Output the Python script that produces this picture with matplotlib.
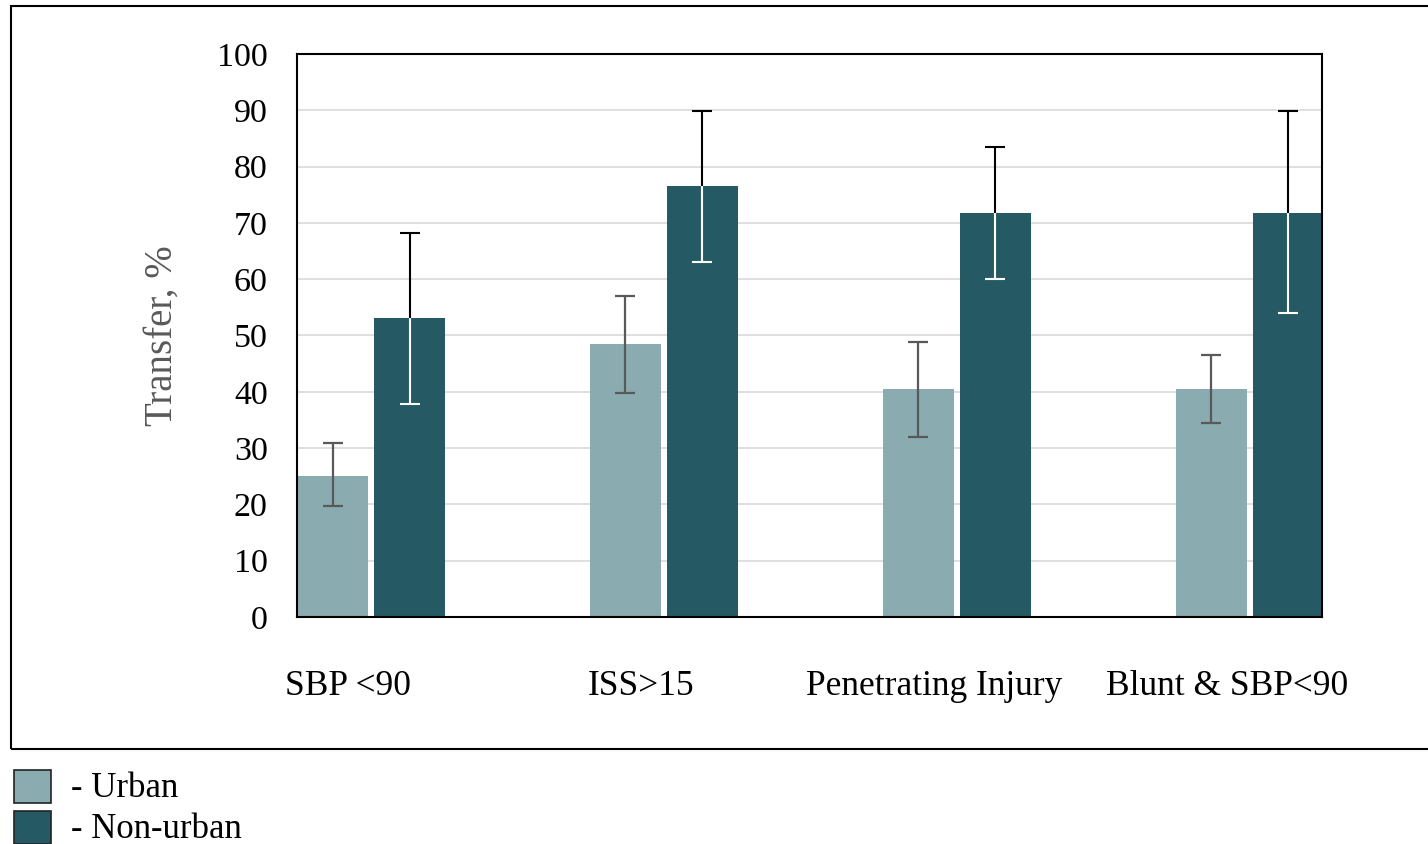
import numpy as np
import matplotlib.pyplot as plt
from matplotlib.patches import Rectangle

# Data
categories = ['SBP <90', 'ISS>15', 'Penetrating Injury', 'Blunt & SBP<90']
urban = [25.0, 48.5, 40.5, 40.5]
urban_lo = [19.7, 39.8, 32.0, 34.5]
urban_hi = [30.9, 57.0, 48.8, 46.5]
nonurban = [53.1, 76.6, 71.8, 71.8]
nonurban_lo = [37.8, 63.1, 60.0, 54.0]
nonurban_hi = [68.2, 89.9, 83.5, 89.9]
yticks = list(range(0, 101, 10))

c_urban = '#8AABB0'
c_non = '#255A64'

plt.rcParams['font.family'] = ['Liberation Serif', 'DejaVu Serif']

fig = plt.figure(figsize=(14.28, 8.44), dpi=100)
ax = fig.add_axes([0.208, 0.269, 0.7178, 0.667])

x = np.arange(len(categories))
w = 0.243
ux = x + w / 2
nx = x + 0.263 + w / 2

urban = np.array(urban)
nonurban = np.array(nonurban)

ax.bar(ux, urban, w, color=c_urban, zorder=2)
ax.bar(nx, nonurban, w, color=c_non, zorder=2)

# urban error bars, dark gray
ax.errorbar(ux, urban, yerr=[urban - np.array(urban_lo), np.array(urban_hi) - urban],
            fmt='none', ecolor='#595959', elinewidth=1.6, capsize=7, capthick=1.6, zorder=3)

# non-urban: upper half black, lower half (inside bar) white
_, caps_up, _ = ax.errorbar(nx, nonurban, yerr=[np.zeros(4), np.array(nonurban_hi) - nonurban],
                            fmt='none', ecolor='black', elinewidth=1.5, capsize=7, capthick=1.5, zorder=3)
caps_up[0].set_visible(False)
_, caps_dn, _ = ax.errorbar(nx, nonurban, yerr=[nonurban - np.array(nonurban_lo), np.zeros(4)],
                            fmt='none', ecolor='white', elinewidth=1.5, capsize=7, capthick=1.5, zorder=3)
caps_dn[1].set_visible(False)

ax.set_xlim(0, 3.5)
ax.set_ylim(0, 100)
ax.set_yticks(yticks)
ax.set_xticks(x + 0.175)
ax.set_xticklabels(categories, fontsize=25.5)
ax.tick_params(axis='x', length=0, pad=38)
ax.tick_params(axis='y', length=0, pad=21, labelsize=24.5)
ax.yaxis.grid(True, color='#d9d9d9', linewidth=1.2, zorder=0)
ax.set_axisbelow(True)
for s in ax.spines.values():
    s.set_color('black')
    s.set_linewidth(1.5)

ax.set_ylabel('Transfer, %', fontsize=28, color='#595959', labelpad=26)

# outer frame
fig.add_artist(Rectangle((0.0077, 0.1126), 1.1, 0.8803, transform=fig.transFigure,
                         fill=False, edgecolor='black', linewidth=1.5))

# legend below the frame
for yb, col, lab in [(0.049, c_urban, '- Urban'), (0.0, c_non, '- Non-urban')]:
    fig.add_artist(Rectangle((0.0098, yb), 0.026, 0.039, transform=fig.transFigure,
                             facecolor=col, edgecolor='#222222', linewidth=1.2))
    fig.text(0.05, yb + 0.017, lab, fontsize=25, va='center', ha='left')

fig.savefig('out.png', dpi=100)
